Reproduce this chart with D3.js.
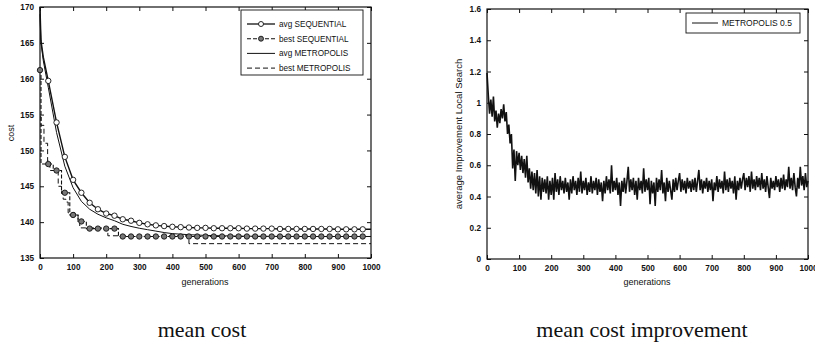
<!DOCTYPE html>
<html>
<head>
<meta charset="utf-8">
<script src="https://cdn.jsdelivr.net/npm/d3@7"></script>
<style>
  html, body { margin: 0; padding: 0; background: #fff; }
  svg { display: block; }
  text { font-family: "Liberation Sans", Arial, sans-serif; fill: #111; }
  .cap { font-family: "Liberation Serif", "Times New Roman", serif; font-size: 22px; }
</style>
</head>
<body>
<svg id="chart" width="815" height="347"></svg>
<script>
// ---------------- DATA ----------------
// Left panel: mean cost
const costTicks = [135, 140, 145, 150, 155, 160, 165, 170];
const genTicks = [0, 100, 200, 300, 400, 500, 600, 700, 800, 900, 1000];
const seriesNames = ["avg SEQUENTIAL", "best SEQUENTIAL", "avg METROPOLIS", "best METROPOLIS"];

const avgSeqGen  = [0, 3, 10, 25, 50, 75, 100, 125, 150, 175, 200, 225, 250, 275, 300, 325, 350, 375, 400, 425, 450, 475, 500, 525, 550, 575, 600, 625, 650, 675, 700, 725, 750, 775, 800, 825, 850, 875, 900, 925, 950, 975, 1000];
const avgSeqCost = [170, 165.3, 163, 159.7, 153.9, 149.1, 145.9, 144.1, 142.7, 141.8, 141.2, 140.9, 140.4, 140.2, 139.9, 139.7, 139.55, 139.45, 139.35, 139.3, 139.25, 139.2, 139.2, 139.15, 139.15, 139.15, 139.15, 139.1, 139.1, 139.1, 139.1, 139.05, 139.05, 139.05, 139.05, 139.05, 139.05, 139.05, 139.0, 139.0, 139.0, 139.0, 139.0];

const bestSeqGen  = [0, 3, 40, 65, 90, 115, 140, 237, 1000];
const bestSeqCost = [161.2, 148.1, 147.2, 144.1, 141.0, 140.1, 139.1, 138.0, 138.0];

const avgMetGen  = [0, 3, 10, 25, 50, 75, 100, 125, 150, 175, 200, 225, 250, 275, 300, 325, 350, 375, 400, 450, 500, 550, 600, 700, 800, 900, 1000];
const avgMetCost = [169, 165, 162.5, 158.8, 152.5, 147.8, 144.8, 142.9, 141.8, 141.1, 140.6, 140.2, 139.7, 139.4, 139.15, 138.95, 138.75, 138.55, 138.4, 138.25, 138.15, 138.1, 138.05, 138.02, 138, 138, 138];

const bestMetGen  = [0, 3, 12, 23, 30, 55, 65, 70, 78, 85, 105, 115, 120, 205, 450, 1000];
const bestMetCost = [154.7, 153.5, 151, 148.5, 147.2, 145, 144, 143.2, 142.8, 141.3, 141, 140.1, 139.2, 138.1, 137, 137];

const markerGen = [0, 25, 50, 75, 100, 125, 150, 175, 200, 225, 250, 275, 300, 325, 350, 375, 400, 425, 450, 475, 500, 525, 550, 575, 600, 625, 650, 675, 700, 725, 750, 775, 800, 825, 850, 875, 900, 925, 950, 975];

// Right panel: mean cost improvement (one value every 4 generations)
const impTicks = [0, 0.2, 0.4, 0.6, 0.8, 1, 1.2, 1.4, 1.6];
const impName = "METROPOLIS 0.5";
const impStep = 4;
const impValues = [
  1.19, 1.05, 0.93, 1.02, 0.91, 1.04, 0.88, 0.95, 0.84, 0.93,
  0.87, 0.96, 0.90, 0.99, 0.88, 0.94, 0.80, 0.86, 0.74, 0.80,
  0.58, 0.70, 0.50, 0.69, 0.60, 0.68, 0.57, 0.66, 0.55, 0.64,
  0.52, 0.66, 0.49, 0.58, 0.45, 0.56, 0.44, 0.55, 0.42, 0.57,
  0.40, 0.53, 0.38, 0.52, 0.43, 0.51, 0.42, 0.53, 0.38, 0.50,
  0.41,
  0.52, 0.38, 0.55, 0.43, 0.51, 0.41, 0.53, 0.44, 0.50, 0.42,
  0.52, 0.43, 0.49, 0.38, 0.51, 0.42, 0.53, 0.44, 0.50, 0.41,
  0.52, 0.43, 0.56, 0.42, 0.50, 0.44, 0.52, 0.41, 0.49, 0.43,
  0.53, 0.42, 0.50, 0.44, 0.52, 0.41, 0.51, 0.43, 0.49, 0.37,
  0.50, 0.42, 0.53, 0.44, 0.51, 0.42, 0.60, 0.43, 0.50, 0.44,
  0.52, 0.41, 0.49, 0.34, 0.50, 0.43, 0.52, 0.42, 0.50, 0.59,
  0.43, 0.51, 0.44, 0.52, 0.41, 0.50, 0.38, 0.52, 0.44, 0.50,
  0.42, 0.58, 0.43, 0.51, 0.44, 0.52, 0.35, 0.50, 0.42, 0.49,
  0.34, 0.52, 0.43, 0.51, 0.44, 0.57, 0.42, 0.49, 0.37, 0.52,
  0.43, 0.50, 0.44, 0.38, 0.51, 0.43, 0.52, 0.44, 0.50, 0.55,
  0.43, 0.51, 0.44, 0.50, 0.42, 0.52, 0.45, 0.50, 0.43, 0.51,
  0.44, 0.52, 0.43, 0.50, 0.57, 0.44, 0.51, 0.42, 0.50, 0.45,
  0.52, 0.43, 0.50, 0.44, 0.51, 0.37, 0.49, 0.44, 0.53, 0.43,
  0.51, 0.45, 0.50, 0.42, 0.56, 0.44, 0.51, 0.43, 0.52, 0.45,
  0.50, 0.42, 0.53, 0.38, 0.50, 0.44, 0.52, 0.45, 0.51, 0.55,
  0.44, 0.52, 0.46, 0.53, 0.43, 0.56, 0.45, 0.51, 0.44, 0.53,
  0.46, 0.52, 0.44, 0.55, 0.45, 0.51, 0.43, 0.53, 0.46, 0.39,
  0.52, 0.45, 0.50, 0.44, 0.53, 0.46, 0.51, 0.43, 0.52, 0.45,
  0.54, 0.44, 0.51, 0.46, 0.59, 0.45, 0.52, 0.44, 0.55, 0.46,
  0.40, 0.52, 0.45, 0.59, 0.47, 0.53, 0.44, 0.55, 0.46, 0.50
];

const captions = ["mean cost", "mean cost improvement"];
const xLabel = "generations";
const yLabelLeft = "cost";
const yLabelRight = "average Improvement Local Search";

// ---------------- DRAW ----------------
const svg = d3.select("#chart");
const TICK = 4;

function frame(g, x, y, xt, yt, yfmt) {
  const [x0, x1] = x.range();
  const [y1, y0] = y.range();
  const bottom = g.append("g").attr("transform", `translate(0,${y1})`)
    .call(d3.axisBottom(x).tickValues(xt).tickSize(-TICK).tickPadding(6).tickFormat(d3.format("d")));
  const top = g.append("g").attr("transform", `translate(0,${y0})`)
    .call(d3.axisTop(x).tickValues(xt).tickSize(-TICK).tickFormat(""));
  const left = g.append("g").attr("transform", `translate(${x0},0)`)
    .call(d3.axisLeft(y).tickValues(yt).tickSize(-TICK).tickPadding(6).tickFormat(yfmt));
  const right = g.append("g").attr("transform", `translate(${x1},0)`)
    .call(d3.axisRight(y).tickValues(yt).tickSize(-TICK).tickFormat(""));
  [bottom, top, left, right].forEach(a => {
    a.select(".domain").remove();
    a.selectAll(".tick line").attr("stroke", "#111").attr("stroke-width", 1);
    a.selectAll("text").attr("font-size", "8.2px").attr("font-weight", "bold").attr("fill", "#222");
  });
  g.append("rect").attr("x", x0).attr("y", y0).attr("width", x1 - x0).attr("height", y1 - y0)
    .attr("fill", "none").attr("stroke", "#111").attr("stroke-width", 1.2);
}

// ---- Left panel ----
const L = svg.append("g");
const xL = d3.scaleLinear().domain([0, 1000]).range([40, 371]);
const yL = d3.scaleLinear().domain([135, 170]).range([258, 7]);
frame(L, xL, yL, genTicks, costTicks, d3.format("d"));

const line = (curve) => d3.line().x(d => xL(d[0])).y(d => yL(d[1])).curve(curve);
const zip = (a, b) => a.map((v, i) => [v, b[i]]);

const avgSeq = zip(avgSeqGen, avgSeqCost);
const bestSeq = zip(bestSeqGen, bestSeqCost);
const avgMet = zip(avgMetGen, avgMetCost);
const bestMet = zip(bestMetGen, bestMetCost);

L.append("path").attr("d", line(d3.curveLinear)(avgMet))
  .attr("fill", "none").attr("stroke", "#111").attr("stroke-width", 1);
L.append("path").attr("d", line(d3.curveStepAfter)(bestMet))
  .attr("fill", "none").attr("stroke", "#111").attr("stroke-width", 1).attr("stroke-dasharray", "5,3");
L.append("path").attr("d", line(d3.curveStepAfter)(bestSeq))
  .attr("fill", "none").attr("stroke", "#111").attr("stroke-width", 1.1).attr("stroke-dasharray", "4,2");
L.append("path").attr("d", line(d3.curveLinear)(avgSeq))
  .attr("fill", "none").attr("stroke", "#111").attr("stroke-width", 1.4);

const valAvg = g => { const i = avgSeqGen.indexOf(g); return i >= 0 ? avgSeqCost[i] : null; };
const stepBest = g => { let v = bestSeqCost[0]; bestSeqGen.forEach((gg, i) => { if (gg <= g) v = bestSeqCost[i]; }); return v; };

L.append("g").selectAll("circle").data(markerGen).join("circle")
  .attr("cx", d => xL(d)).attr("cy", d => yL(stepBest(d))).attr("r", 2.7)
  .attr("fill", "#777").attr("stroke", "#111").attr("stroke-width", 0.9);
L.append("g").selectAll("circle").data(markerGen.filter(g => g > 0)).join("circle")
  .attr("cx", d => xL(d)).attr("cy", d => yL(valAvg(d))).attr("r", 2.7)
  .attr("fill", "#fff").attr("stroke", "#111").attr("stroke-width", 0.9);

// legend
const lg = L.append("g");
lg.append("rect").attr("x", 241).attr("y", 10).attr("width", 122).attr("height", 65)
  .attr("fill", "#fff").attr("stroke", "#111").attr("stroke-width", 0.9);
const legStyles = [
  { dash: null, w: 1.3, marker: "#fff" },
  { dash: "4,2", w: 1.1, marker: "#777" },
  { dash: null, w: 1, marker: null },
  { dash: "5,3", w: 1, marker: null }
];
seriesNames.forEach((name, i) => {
  const yy = 24 + i * 14.7;
  const s = legStyles[i];
  lg.append("line").attr("x1", 247).attr("x2", 275).attr("y1", yy).attr("y2", yy)
    .attr("stroke", "#111").attr("stroke-width", s.w).attr("stroke-dasharray", s.dash);
  if (s.marker) lg.append("circle").attr("cx", 261).attr("cy", yy).attr("r", 2.5)
    .attr("fill", s.marker).attr("stroke", "#111").attr("stroke-width", 0.9);
  lg.append("text").attr("x", 279).attr("y", yy + 3).attr("font-size", "8.2px").text(name);
});

L.append("text").attr("x", 205).attr("y", 285).attr("text-anchor", "middle").attr("font-size", "9px").text(xLabel);
L.append("text").attr("transform", "translate(14,133) rotate(-90)").attr("text-anchor", "middle").attr("font-size", "9px").text(yLabelLeft);

// ---- Right panel ----
const R = svg.append("g");
const xR = d3.scaleLinear().domain([0, 1000]).range([487, 808]);
const yR = d3.scaleLinear().domain([0, 1.6]).range([259, 9]);
frame(R, xR, yR, genTicks, impTicks, d3.format("~g"));

const imp = impValues.map((v, i) => [i * impStep, v]);
R.append("path")
  .attr("d", d3.line().x(d => xR(d[0])).y(d => yR(d[1]))(imp))
  .attr("fill", "none").attr("stroke", "#111").attr("stroke-width", 1.6);

const rg = R.append("g");
rg.append("rect").attr("x", 686).attr("y", 13).attr("width", 114).attr("height", 20)
  .attr("fill", "#fff").attr("stroke", "#111").attr("stroke-width", 0.9);
rg.append("line").attr("x1", 692).attr("x2", 718).attr("y1", 23).attr("y2", 23).attr("stroke", "#111").attr("stroke-width", 1);
rg.append("text").attr("x", 722).attr("y", 26).attr("font-size", "8.5px").text(impName);

R.append("text").attr("x", 647).attr("y", 285).attr("text-anchor", "middle").attr("font-size", "9px").text(xLabel);
R.append("text").attr("transform", "translate(462,134) rotate(-90)").attr("text-anchor", "middle").attr("font-size", "9.5px").text(yLabelRight);

// captions
svg.append("text").attr("class", "cap").attr("x", 202).attr("y", 337).attr("text-anchor", "middle").text(captions[0]);
svg.append("text").attr("class", "cap").attr("x", 642).attr("y", 337).attr("text-anchor", "middle").text(captions[1]);
</script>
</body>
</html>
